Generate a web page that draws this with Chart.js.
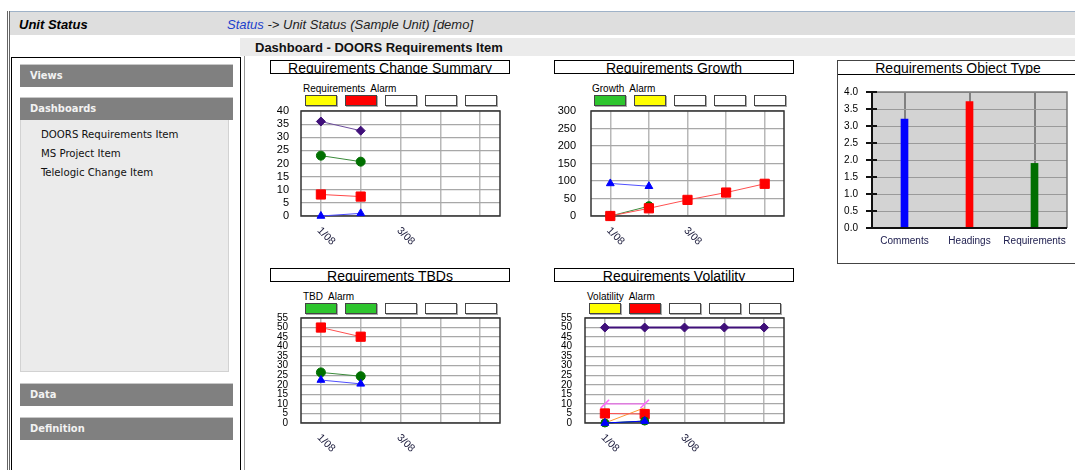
<!DOCTYPE html>
<html>
<head>
<meta charset="utf-8">
<title>Unit Status</title>
<script src="https://cdn.jsdelivr.net/npm/chart.js@4.4.1/dist/chart.umd.min.js"></script>
<style>
  html, body { margin: 0; padding: 0; background: #fff; width: 1075px; height: 470px; overflow: hidden;
    font-family: "Liberation Sans", Arial, sans-serif; }
  .abs { position: absolute; }
  #outerLine { left: 7px; top: 11px; width: 0; height: 470px; border-left: 3px double #666; }
  #header { left: 10px; top: 11px; width: 1065px; height: 23px; background: #dedede; border-top: 1px solid #9fb2c8; }
  #header .ttl { position: absolute; left: 9px; top: 1px; font: italic bold 13px "Liberation Sans", Arial, sans-serif; line-height: 23px; }
  #header .crumb { position: absolute; left: 217px; top: 1px; font: italic 13px "Liberation Sans", Arial, sans-serif; line-height: 23px; color: #222; }
  #header .crumb span { color: #2040cc; }
  #band { left: 240px; top: 38px; width: 835px; height: 18px; background: #ebebeb; }
  #band div { position: absolute; left: 15px; top: 1px; font: bold 13px "Liberation Sans", Arial, sans-serif; line-height: 18px; color: #111; }
  #sideBox { left: 11px; top: 57px; width: 228px; height: 430px; border: 1px solid #000; }
  #sep { left: 244px; top: 56px; width: 1px; height: 420px; background: #999; }
  .sbar { position: absolute; left: 20px; width: 213px; height: 22px; background: #808080; border-top: 1px solid #c8c8c8;
    color: #f2f2f2; font: bold 11px "DejaVu Sans Condensed", "DejaVu Sans", sans-serif; line-height: 22px; text-indent: 10px; }
  #panel { left: 20px; top: 120px; width: 207px; height: 251px; background: #ebebeb; border: 1px solid #d2d2d2; border-top: none; }
  .item { position: absolute; left: 41px; font: 11.3px "DejaVu Sans Condensed", "DejaVu Sans", sans-serif; color: #111; line-height: 19px; }
  .ctitle { position: absolute; border: 1px solid #000; height: 12px; width: 238px; overflow: hidden;
    font: 14px "Liberation Sans", Arial, sans-serif; line-height: 14px; text-align: center; color: #000; background: #fff; }
  .legend { position: absolute; font: 10px "Liberation Sans", Arial, sans-serif; color: #000; white-space: nowrap; }
  .legend .lab span { display: inline-block; margin-right: 5px; }
  .legend .boxes { position: relative; height: 11px; margin-top: 1px; }
  .legend .boxes div { position: absolute; top: 0; width: 30px; height: 9px; border: 1px solid #444;
    box-shadow: 1px 1px 0 #aaa; }
  #typeBox { left: 837px; top: 60px; width: 240px; height: 202px; border: 1px solid #444; border-right: none; }
  #typeBox .ttl { position: absolute; left: 0; top: 0; width: 240px; height: 13px; border-bottom: 1px solid #000; overflow: hidden;
    font: 14px "Liberation Sans", Arial, sans-serif; line-height: 14px; text-align: center; }
  canvas { position: absolute; }
</style>
</head>
<body>
<div id="outerLine" class="abs"></div>
<div id="header" class="abs">
  <div class="ttl">Unit Status</div>
  <div class="crumb"><span>Status</span> -&gt; Unit Status (Sample Unit) [demo]</div>
</div>
<div id="band" class="abs"><div>Dashboard - DOORS Requirements Item</div></div>

<div id="sideBox" class="abs"></div>
<div id="sep" class="abs"></div>
<div class="sbar" style="top:64px">Views</div>
<div class="sbar" style="top:97px">Dashboards</div>
<div id="panel" class="abs"></div>
<div class="item" style="top:125px">DOORS Requirements Item</div>
<div class="item" style="top:144px">MS Project Item</div>
<div class="item" style="top:163px">Telelogic Change Item</div>
<div class="sbar" style="top:383px">Data</div>
<div class="sbar" style="top:417px">Definition</div>

<div class="ctitle" style="left:270px; top:60px">Requirements Change Summary</div>
<div class="ctitle" style="left:554px; top:60px">Requirements Growth</div>
<div class="ctitle" style="left:270px; top:268px">Requirements TBDs</div>
<div class="ctitle" style="left:554px; top:268px">Requirements Volatility</div>
<div id="typeBox" class="abs"><div class="ttl">Requirements Object Type</div></div>

<div class="legend" id="legChange" style="left:303px; top:83px"></div>
<div class="legend" id="legGrowth" style="left:592px; top:83px"></div>
<div class="legend" id="legTbd" style="left:303px; top:291px"></div>
<div class="legend" id="legVol" style="left:587px; top:291px"></div>

<canvas id="changeChart" width="240" height="170" style="left:270px; top:100px"></canvas>
<canvas id="growthChart" width="240" height="170" style="left:554px; top:100px"></canvas>
<canvas id="tbdChart" width="240" height="156" style="left:270px; top:308px"></canvas>
<canvas id="volChart" width="240" height="156" style="left:554px; top:308px"></canvas>
<canvas id="typeChart" width="237" height="187" style="left:838px; top:75px"></canvas>

<script>
// --- data ---
const months = ['1/08', '', '3/08', '', ''];

// Requirements Change Summary
const changeLegend = ['Requirements', 'Alarm'];
const changeStatus = ['#ffff00', '#ff0000', '#fff', '#fff', '#fff'];
const changePurple = [36, 32.5, null, null, null];
const changeGreen = [23, 20.7, null, null, null];
const changeRed = [8.2, 7.4, null, null, null];
const changeBlue = [0, 1, null, null, null];

// Requirements Growth
const growthLegend = ['Growth', 'Alarm'];
const growthStatus = ['#2ec52e', '#ffff00', '#fff', '#fff', '#fff'];
const growthBlue = [93, 85, null, null, null];
const growthGreen = [0, 28, null, null, null];
const growthRed = [0, 22, 46, 67, 92];

// Requirements TBDs
const tbdLegend = ['TBD', 'Alarm'];
const tbdStatus = ['#2ec52e', '#2ec52e', '#fff', '#fff', '#fff'];
const tbdRed = [50, 45.2, null, null, null];
const tbdGreen = [26.5, 24.5, null, null, null];
const tbdBlue = [22.5, 20.5, null, null, null];

// Requirements Volatility
const volLegend = ['Volatility', 'Alarm'];
const volStatus = ['#ffff00', '#ff0000', '#fff', '#fff', '#fff'];
const volPurple = [50, 50, 50, 50, 50];
const volPink = [10, 10, null, null, null];
const volRed = [5, 4.7, null, null, null];
const volOrange = [0, 8, null, null, null];
const volGreen = [0, 1, null, null, null];
const volBlue = [0, 1, null, null, null];

// Requirements Object Type
const objectTypes = ['Comments', 'Headings', 'Requirements'];
const objectCounts = [3.2, 3.72, 1.9];
const objectColors = ['#0000ff', '#ff0000', '#006e00'];

// --- legends (status boxes) ---
function buildLegend(id, labels, colors) {
    const el = document.getElementById(id);
    const lab = document.createElement('div');
    lab.className = 'lab';
    labels.forEach(t => {
        const s = document.createElement('span');
        s.textContent = t;
        lab.appendChild(s);
    });
    const boxes = document.createElement('div');
    boxes.className = 'boxes';
    colors.forEach((c, i) => {
        const b = document.createElement('div');
        b.style.left = (2 + i * 40) + 'px';
        b.style.background = c;
        boxes.appendChild(b);
    });
    el.appendChild(lab);
    el.appendChild(boxes);
}
buildLegend('legChange', changeLegend, changeStatus);
buildLegend('legGrowth', growthLegend, growthStatus);
buildLegend('legTbd', tbdLegend, tbdStatus);
buildLegend('legVol', volLegend, volStatus);

// --- helpers ---
const FONT = '"Liberation Sans", Arial, sans-serif';

// nudge the layout padding until the plot area sits on the wanted box (canvas px)
function fitArea(chart, box) {
    const pad = Object.assign({}, chart.options.layout.padding);
    for (let k = 0; k < 3; k++) {
        const a = chart.chartArea;
        pad.top += box.top - a.top;
        pad.left += box.left - a.left;
        pad.right += a.right - box.right;
        pad.bottom += a.bottom - box.bottom;
        chart.options.layout.padding = Object.assign({}, pad);
        chart.update('none');
    }
}

// frame round the plot, and the slanted month labels under it
const framePlugin = {
    id: 'frame',
    beforeDatasetsDraw(chart) {
        const { ctx, chartArea: a } = chart;
        ctx.save();
        ctx.strokeStyle = '#333';
        ctx.lineWidth = 1.5;
        ctx.strokeRect(a.left, a.top, a.right - a.left, a.bottom - a.top);
        ctx.restore();
    },
    afterDraw(chart) {
        const { ctx, chartArea: a, scales: { x } } = chart;
        ctx.save();
        ctx.font = '10.5px ' + FONT;
        ctx.fillStyle = '#1c1c3c';
        ctx.textBaseline = 'middle';
        chart.data.labels.forEach((lab, i) => {
            if (!lab) return;
            ctx.save();
            ctx.translate(x.getPixelForValue(i) - 2, a.bottom + 13);
            ctx.rotate(Math.PI / 4);
            ctx.fillText(lab, 0, 0);
            ctx.restore();
        });
        ctx.restore();
    }
};

function line(data, color, lineColor, style, radius, extra) {
    return Object.assign({
        data: data,
        borderColor: lineColor,
        borderWidth: 1,
        backgroundColor: color,
        pointBackgroundColor: color,
        pointBorderColor: color,
        pointStyle: style,
        pointRadius: radius,
        pointBorderWidth: 1,
        tension: 0,
        clip: false
    }, extra || {});
}

// label gap comes from an invisible tick mark, so it does not eat into the plot height
function lineChart(id, datasets, yMax, step, fontSize, axisWidth, gap, box) {
    const chart = new Chart(document.getElementById(id), {
        type: 'line',
        data: { labels: months, datasets: datasets },
        options: {
            responsive: false,
            animation: false,
            devicePixelRatio: 1,
            layout: { padding: { left: 0, right: 240 - box.right, top: box.top, bottom: 0 } },
            plugins: { legend: { display: false }, tooltip: { enabled: false } },
            scales: {
                x: {
                    offset: true,
                    grid: { color: '#b8b8b8', lineWidth: 1.5, drawTicks: false },
                    border: { display: false },
                    ticks: { display: false },
                    afterFit: s => { s.height = 0; }
                },
                y: {
                    min: 0,
                    max: yMax,
                    ticks: { stepSize: step, autoSkip: false, color: '#000', padding: 0,
                        font: { family: FONT, size: fontSize, lineHeight: 1 } },
                    grid: { color: '#a8a8a8', lineWidth: 1.2, drawTicks: true, tickLength: gap,
                        tickColor: 'rgba(0,0,0,0)' },
                    border: { display: false },
                    afterFit: s => { s.width = axisWidth; }
                }
            }
        },
        plugins: [framePlugin]
    });
    chart.options.layout.padding.bottom = chart.height - box.bottom;
    chart.update('none');
    fitArea(chart, box);
    return chart;
}

lineChart('changeChart', [
    line(changeBlue, '#0000ff', '#4848ff', 'triangle', 4.5),
    line(changeRed, '#ff0000', '#ff4848', 'rect', 6.5),
    line(changeGreen, '#007000', '#3a8a3a', 'circle', 4.5),
    line(changePurple, '#40107a', '#6c4c9c', 'rectRot', 4.5)
], 40, 5, 11, 31, 12, { left: 31, right: 230, top: 11, bottom: 116 });

lineChart('growthChart', [
    line(growthRed, '#ff0000', '#ff5050', 'rect', 6.5),
    line(growthBlue, '#0000ff', '#5050ff', 'triangle', 4.5),
    line(growthGreen, '#007000', '#3a8a3a', 'circle', 4.5)
], 300, 50, 11, 37, 15, { left: 37, right: 230, top: 11, bottom: 116 });

lineChart('tbdChart', [
    line(tbdBlue, '#0000ff', '#5050ff', 'triangle', 4.5),
    line(tbdRed, '#ff0000', '#ff5050', 'rect', 6.5),
    line(tbdGreen, '#007000', '#3a8a3a', 'circle', 4.5)
], 55, 5, 10, 31, 13, { left: 31, right: 230, top: 10, bottom: 115 });

lineChart('volChart', [
    line(volBlue, '#0000ff', '#0000ff', 'triangle', 4.5),
    line(volGreen, '#007000', '#007000', 'circle', 4),
    line(volRed, '#ff0000', '#ff5050', 'rect', 6.5),
    line(volOrange, '#ff9933', '#ff9933', 'circle', 0),
    line(volPink, '#ff66ff', '#ff66ff', 'line', 6, { pointRotation: -45, pointBorderWidth: 1.5 }),
    line(volPurple, '#40107a', '#40107a', 'rectRot', 4.5, { borderWidth: 2 })
], 55, 5, 10, 31, 13, { left: 31, right: 230, top: 10, bottom: 115 });

// --- bar chart: object type ---
const typeFrame = {
    id: 'typeFrame',
    beforeDraw(chart) {
        const { ctx, chartArea: a } = chart;
        ctx.save();
        ctx.fillStyle = '#d3d3d3';
        ctx.fillRect(a.left, a.top, a.right - a.left, a.bottom - a.top);
        ctx.restore();
    },
    afterDatasetsDraw(chart) {
        const { ctx, chartArea: a, scales: { y } } = chart;
        ctx.save();
        ctx.strokeStyle = '#7a7a7a';
        ctx.lineWidth = 1.5;
        ctx.beginPath();
        ctx.moveTo(a.left, a.top); ctx.lineTo(a.right, a.top); ctx.lineTo(a.right, a.bottom);
        ctx.stroke();
        ctx.strokeStyle = '#111';
        ctx.lineWidth = 2;
        ctx.beginPath();
        ctx.moveTo(a.left, a.top - 1); ctx.lineTo(a.left, a.bottom);
        ctx.moveTo(a.left - 6, a.bottom); ctx.lineTo(a.right, a.bottom);
        y.ticks.forEach(t => {
            const py = y.getPixelForValue(t.value);
            ctx.moveTo(a.left - 6, py); ctx.lineTo(a.left + 5, py);
        });
        ctx.stroke();
        ctx.restore();
    }
};

const typeChart = new Chart(document.getElementById('typeChart'), {
    type: 'bar',
    data: {
        labels: objectTypes,
        datasets: [{
            data: objectCounts,
            backgroundColor: objectColors,
            barThickness: 7
        }]
    },
    options: {
        responsive: false,
        animation: false,
        devicePixelRatio: 1,
        layout: { padding: { left: 0, right: 8, top: 17, bottom: 0 } },
        plugins: { legend: { display: false }, tooltip: { enabled: false } },
        scales: {
            x: {
                grid: { offset: false, color: '#808080', lineWidth: 2, drawTicks: false },
                border: { display: false },
                ticks: { color: '#202050', padding: 7, autoSkip: false, maxRotation: 0,
                    font: { family: FONT, size: 10 } },
                afterFit: s => { s.height = 34; }
            },
            y: {
                min: 0,
                max: 4,
                ticks: { stepSize: 0.5, color: '#000', padding: 0, callback: v => v.toFixed(1),
                    font: { family: FONT, size: 10 } },
                grid: { color: '#9a9a9a', lineWidth: 1, drawTicks: true, tickLength: 14,
                    tickColor: 'rgba(0,0,0,0)' },
                border: { display: false },
                afterFit: s => { s.width = 34; }
            }
        }
    },
    plugins: [typeFrame]
});
fitArea(typeChart, { left: 34, right: 229, top: 17, bottom: 153 });
</script>
</body>
</html>
